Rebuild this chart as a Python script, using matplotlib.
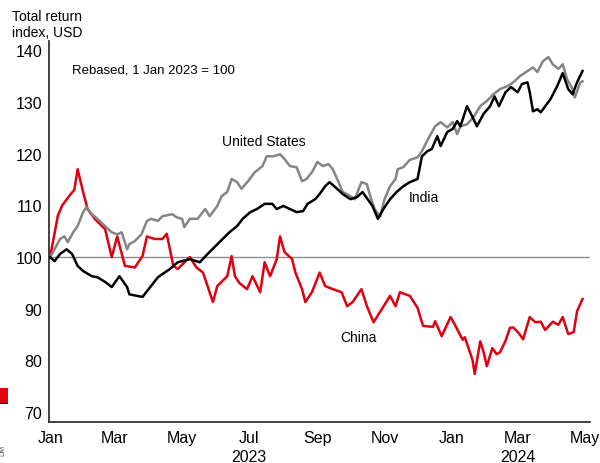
import matplotlib
matplotlib.use("Agg")
import matplotlib.pyplot as plt
from matplotlib.patches import Rectangle
import pandas as pd

plt.rcParams["font.family"] = ["Liberation Sans", "DejaVu Sans"]

# total return index in USD, rebased to 100 on 1 Jan 2023
china_dates = [
    "2023-01-01", "2023-01-08", "2023-01-12", "2023-01-19", "2023-01-23", "2023-01-26",
    "2023-01-31", "2023-02-04", "2023-02-11", "2023-02-20", "2023-02-26", "2023-03-03",
    "2023-03-10", "2023-03-19", "2023-03-26", "2023-03-30", "2023-04-06", "2023-04-13",
    "2023-04-17", "2023-04-23", "2023-04-27", "2023-05-08", "2023-05-14", "2023-05-20",
    "2023-05-29", "2023-06-02", "2023-06-11", "2023-06-15", "2023-06-18", "2023-06-22",
    "2023-06-29", "2023-07-04", "2023-07-11", "2023-07-15", "2023-07-20", "2023-07-26",
    "2023-07-29", "2023-08-02", "2023-08-09", "2023-08-12", "2023-08-18", "2023-08-21",
    "2023-08-27", "2023-09-03", "2023-09-08", "2023-09-15", "2023-09-23", "2023-09-28",
    "2023-10-03", "2023-10-11", "2023-10-16", "2023-10-22", "2023-10-28", "2023-11-06",
    "2023-11-11", "2023-11-15", "2023-11-24", "2023-12-01", "2023-12-06", "2023-12-15",
    "2023-12-17", "2023-12-23", "2023-12-31", "2024-01-04", "2024-01-11", "2024-01-13",
    "2024-01-20", "2024-01-22", "2024-01-27", "2024-01-30", "2024-02-02", "2024-02-07",
    "2024-02-11", "2024-02-14", "2024-02-19", "2024-02-23", "2024-02-26", "2024-03-02",
    "2024-03-06", "2024-03-12", "2024-03-17", "2024-03-22", "2024-03-26", "2024-04-02",
    "2024-04-07", "2024-04-11", "2024-04-16", "2024-04-21", "2024-04-24", "2024-04-29",
]
china = [
    100.0, 108.0, 110.0, 112.0, 113.0, 117.0,
    112.6, 109.3, 107.3, 105.4, 100.0, 104.0,
    98.3, 98.0, 100.2, 104.0, 103.5, 103.5,
    104.5, 98.3, 97.7, 100.0, 98.0, 97.0,
    91.3, 94.4, 96.3, 100.2, 96.3, 95.0,
    93.8, 96.3, 93.2, 99.0, 96.3, 99.6,
    104.0, 101.0, 99.6, 97.0, 93.8, 91.3,
    93.2, 97.0, 94.4, 93.8, 93.2, 90.5,
    91.3, 93.8, 90.5, 87.4, 89.4, 92.5,
    90.5, 93.2, 92.5, 90.2, 86.7, 86.5,
    87.6, 84.7, 88.4, 86.9, 84.0, 84.5,
    80.1, 77.4, 83.7, 81.7, 78.9, 82.4,
    81.2, 81.6, 83.8, 86.3, 86.4, 85.3,
    84.1, 88.4, 87.4, 87.5, 85.9, 87.5,
    86.9, 88.4, 85.1, 85.5, 89.5, 91.9,
]

india_dates = [
    "2023-01-01", "2023-01-05", "2023-01-10", "2023-01-16", "2023-01-21", "2023-01-26",
    "2023-01-31", "2023-02-08", "2023-02-13", "2023-02-20", "2023-02-26", "2023-03-03",
    "2023-03-05", "2023-03-12", "2023-03-14", "2023-03-21", "2023-03-26", "2023-04-02",
    "2023-04-09", "2023-04-13", "2023-04-20", "2023-04-27", "2023-05-08", "2023-05-17",
    "2023-05-26", "2023-06-04", "2023-06-13", "2023-06-20", "2023-06-25", "2023-07-02",
    "2023-07-08", "2023-07-15", "2023-07-22", "2023-07-26", "2023-08-01", "2023-08-07",
    "2023-08-13", "2023-08-19", "2023-08-23", "2023-08-30", "2023-09-03", "2023-09-08",
    "2023-09-12", "2023-09-19", "2023-09-24", "2023-10-01", "2023-10-07", "2023-10-12",
    "2023-10-21", "2023-10-26", "2023-10-31", "2023-11-06", "2023-11-12", "2023-11-18",
    "2023-11-24", "2023-12-01", "2023-12-05", "2023-12-10", "2023-12-14", "2023-12-19",
    "2023-12-22", "2023-12-28", "2024-01-02", "2024-01-06", "2024-01-09", "2024-01-15",
    "2024-01-20", "2024-01-24", "2024-01-30", "2024-02-05", "2024-02-09", "2024-02-13",
    "2024-02-19", "2024-02-24", "2024-03-01", "2024-03-05", "2024-03-10", "2024-03-12",
    "2024-03-15", "2024-03-19", "2024-03-22", "2024-03-31", "2024-04-06", "2024-04-11",
    "2024-04-16", "2024-04-20", "2024-04-24", "2024-04-29",
]
india = [
    100.0, 99.2, 100.6, 101.5, 100.6, 98.3,
    97.3, 96.3, 96.1, 95.2, 94.2, 95.7,
    96.3, 94.2, 92.8, 92.5, 92.3, 94.2,
    96.1, 96.7, 97.7, 99.0, 99.6, 99.0,
    101.0, 102.9, 104.8, 106.0, 107.4, 108.7,
    109.3, 110.3, 110.3, 109.3, 109.9, 109.3,
    108.7, 108.9, 110.3, 111.2, 112.2, 113.7,
    114.5, 113.2, 112.2, 111.2, 111.6, 112.6,
    109.9, 107.4, 109.3, 111.2, 112.6, 113.7,
    114.5, 115.1, 119.5, 120.5, 120.9, 123.4,
    121.5, 124.2, 124.8, 126.3, 125.3, 129.2,
    127.1, 125.3, 127.7, 129.2, 131.1, 129.2,
    131.9, 132.9, 131.9, 133.5, 133.8, 131.9,
    128.2, 128.6, 128.0, 130.6, 133.1, 135.6,
    132.5, 131.5, 133.8, 136.0,
]

us_dates = [
    "2023-01-01", "2023-01-05", "2023-01-10", "2023-01-14", "2023-01-17", "2023-01-22",
    "2023-01-26", "2023-01-31", "2023-02-03", "2023-02-08", "2023-02-13", "2023-02-20",
    "2023-02-26", "2023-03-03", "2023-03-07", "2023-03-12", "2023-03-14", "2023-03-19",
    "2023-03-25", "2023-03-30", "2023-04-03", "2023-04-09", "2023-04-13", "2023-04-22",
    "2023-04-26", "2023-05-01", "2023-05-03", "2023-05-08", "2023-05-15", "2023-05-22",
    "2023-05-26", "2023-06-02", "2023-06-06", "2023-06-11", "2023-06-15", "2023-06-20",
    "2023-06-24", "2023-06-30", "2023-07-06", "2023-07-13", "2023-07-17", "2023-07-23",
    "2023-07-29", "2023-08-02", "2023-08-07", "2023-08-13", "2023-08-18", "2023-08-22",
    "2023-08-27", "2023-09-01", "2023-09-06", "2023-09-11", "2023-09-15", "2023-09-19",
    "2023-09-24", "2023-10-01", "2023-10-05", "2023-10-11", "2023-10-16", "2023-10-19",
    "2023-10-23", "2023-10-28", "2023-11-01", "2023-11-06", "2023-11-11", "2023-11-13",
    "2023-11-18", "2023-11-24", "2023-12-01", "2023-12-05", "2023-12-12", "2023-12-17",
    "2023-12-22", "2023-12-28", "2024-01-02", "2024-01-06", "2024-01-09", "2024-01-15",
    "2024-01-21", "2024-01-27", "2024-02-02", "2024-02-08", "2024-02-14", "2024-02-21",
    "2024-02-26", "2024-03-03", "2024-03-10", "2024-03-15", "2024-03-19", "2024-03-24",
    "2024-03-29", "2024-04-02", "2024-04-07", "2024-04-11", "2024-04-15", "2024-04-20",
    "2024-04-22", "2024-04-27", "2024-04-29",
]
us = [
    100.0, 101.5, 103.5, 104.0, 102.9, 104.8,
    106.0, 108.7, 109.7, 108.3, 107.4, 106.0,
    104.8, 104.4, 104.8, 101.5, 102.5, 103.1,
    104.4, 107.0, 107.4, 107.0, 107.9, 108.3,
    107.7, 107.4, 105.8, 107.4, 107.4, 109.3,
    107.9, 109.9, 111.8, 112.6, 115.1, 114.5,
    113.2, 114.7, 116.4, 117.6, 119.5, 119.5,
    119.9, 119.0, 117.6, 117.4, 114.7, 115.1,
    116.4, 118.4, 117.6, 118.0, 117.0, 115.1,
    112.6, 111.8, 111.2, 114.5, 114.1, 111.8,
    109.3, 107.9, 111.2, 113.7, 115.1, 117.0,
    117.4, 118.8, 119.3, 120.5, 123.4, 125.3,
    126.1, 125.1, 126.1, 123.8, 125.3, 125.7,
    127.1, 129.2, 130.2, 131.5, 132.5, 133.1,
    133.8, 135.0, 136.0, 136.7, 135.8, 137.9,
    138.7, 137.3, 136.4, 137.3, 134.4, 132.5,
    130.9, 133.8, 134.0,
]

base_value = 100
tick_months = ["2023-01-01", "2023-03-01", "2023-05-01", "2023-07-01", "2023-09-01",
               "2023-11-01", "2024-01-01", "2024-03-01", "2024-05-01"]
month_labels = ["Jan", "Mar", "May", "Jul", "Sep", "Nov", "Jan", "Mar", "May"]
year_labels = {"2023-07-01": "2023", "2024-03-01": "2024"}
y_ticks = [70, 80, 90, 100, 110, 120, 130, 140]

fig = plt.figure(figsize=(6.0, 4.64), dpi=100)
ax = fig.add_axes([0.0817, 0.0884, 0.902, 0.821])

ax.axhline(base_value, color="#8c8c8c", lw=1.0, zorder=1)
ax.plot(pd.to_datetime(china_dates), china, color="#e0000f", lw=1.8, zorder=2)
ax.plot(pd.to_datetime(us_dates), us, color="#858585", lw=1.8, zorder=3)
ax.plot(pd.to_datetime(india_dates), india, color="#000000", lw=1.8, zorder=4)

ax.set_xlim(pd.Timestamp("2022-12-31"), pd.Timestamp("2024-05-06"))
ax.set_ylim(68.1, 141.8)

ax.set_yticks(y_ticks)
ax.set_yticklabels([str(v) for v in y_ticks], fontsize=11.5)
ax.set_xticks(pd.to_datetime(tick_months))
ax.set_xticklabels(month_labels, fontsize=11.5)
ax.tick_params(length=0, pad=6)
ax.tick_params(axis="y", pad=5)

for s in ["top", "right"]:
    ax.spines[s].set_visible(False)
for s in ["left", "bottom"]:
    ax.spines[s].set_color("#333333")
    ax.spines[s].set_linewidth(1.3)

for d, lab in year_labels.items():
    ax.text(pd.Timestamp(d), -0.07, lab, transform=ax.get_xaxis_transform(),
            ha="center", va="top", fontsize=11.5)

# series labels next to the lines
ax.text(pd.Timestamp("2023-06-06"), 122.4, "United States", fontsize=10, ha="left", va="center")
ax.text(pd.Timestamp("2023-11-23"), 111.6, "India", fontsize=10, ha="left", va="center")
ax.text(pd.Timestamp("2023-09-22"), 84.5, "China", fontsize=10, ha="left", va="center")
ax.text(pd.Timestamp("2023-01-21"), 136.3, "Rebased, 1 Jan 2023 = 100", fontsize=9.5,
        ha="left", va="center")

fig.text(0.02, 0.978, "Total return\nindex, USD", fontsize=10, ha="left", va="top",
         linespacing=1.15)

# small marker and source tag at the left edge
fig.patches.append(Rectangle((0.0, 0.129), 0.014, 0.033, transform=fig.transFigure,
                             facecolor="#e0000f", edgecolor="none"))
fig.patches.append(Rectangle((0.0, 0.127), 0.014, 0.003, transform=fig.transFigure,
                             facecolor="#222222", edgecolor="none"))
fig.text(0.004, 0.03, "DM", fontsize=5, rotation=90, color="#555555", ha="center", va="center")

fig.savefig("out.png", dpi=100)
